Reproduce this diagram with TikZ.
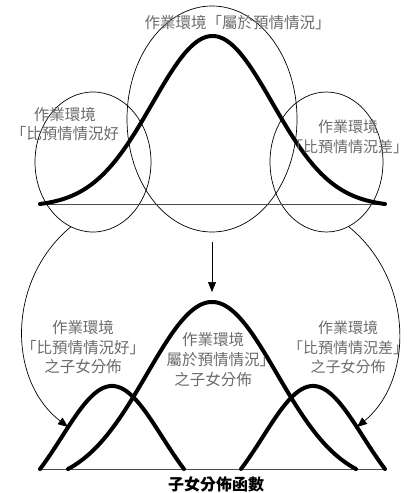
\documentclass[tikz,border=0pt]{standalone}
\usepackage{fontspec}
\newfontfamily\cjk{Noto Sans CJK TC}
\usetikzlibrary{shapes.geometric,arrows.meta}
\definecolor{txtgray}{gray}{0.42}
\definecolor{basegray}{gray}{0.3}
\tikzset{
  declare function={bell(\t,\c,\w,\s)=(exp(-0.5*((\t-\c)/\s)^2)-exp(-0.5*(\w/\s)^2))/(1-exp(-0.5*(\w/\s)^2));},
  zone/.style={ellipse,draw=black,line width=0.7pt,inner sep=0pt},
  curve/.style={line width=4pt,line cap=round,line join=round},
  baseline/.style={draw=basegray,line width=0.9pt},
  lbl/.style={text=txtgray,align=center,inner sep=0pt,font=\cjk\fontsize{15.5pt}{19.5pt}\selectfont},
  arr/.style={line width=0.7pt,-{Triangle[length=10pt,width=8pt]}},
}
\begin{document}
\begin{tikzpicture}[x=1pt,y=-1pt]
\useasboundingbox (0,0) rectangle (409,493);
% zones
\node[zone,minimum width=116pt,minimum height=140pt] (lz) at (93,162) {};
\node[zone,minimum width=170pt,minimum height=226pt] (cz) at (212,119) {};
\node[zone,minimum width=113pt,minimum height=140pt] (rz) at (326.5,162) {};
% top distribution
\draw[baseline] (40,204) -- (385,204);
\draw[curve] plot[domain=40:385,samples=140] (\x,{204-168*bell(\x,212.5,172.5,60)});
% bottom distributions
\draw[baseline] (40,469) -- (385,469);
\draw[curve] plot[domain=40:184,samples=80] (\x,{469-83*bell(\x,112,72,50)});
\draw[curve] plot[domain=241:385,samples=80] (\x,{469-83*bell(\x,313,72,50)});
\draw[curve] plot[domain=68:356,samples=140] (\x,{469-167*bell(\x,212,144,65)});
% labels
\node[lbl] (tc) at (237.5,23) {作業環境「屬於預情情況」};
\node[lbl] (tl) at (65,124) {作業環境\\「比預情情況好};
\node[lbl,font=\cjk\fontsize{15pt}{19.5pt}\selectfont] (tr) at (348,137) {作業環境\\「比預情情況差」};
\node[lbl] (bl) at (83,347.5) {作業環境\\「比預情情況好」\\之子女分佈};
\node[lbl,font=\cjk\fontsize{15.5pt}{20pt}\selectfont] (bm) at (213,360) {作業環境\\\phantom{「}屬於預情情況」\\之子女分佈};
\node[lbl,font=\cjk\fontsize{15pt}{19.5pt}\selectfont] (br) at (348,347.5) {作業環境\\「比預情情況差」\\之子女分佈};
\node[inner sep=0pt,font=\cjk\bfseries\fontsize{16pt}{18pt}\selectfont] (title) at (216,484) {子女分佈函數};
% arrow endpoints
\coordinate (cs) at (212,242);
\coordinate (ct) at (212,292);
\coordinate (lt) at (68,427);
\coordinate (rt) at (357,427);
% arrows
\draw[arr] (cs) -- (ct);
\draw[arr] (lz.-109) .. controls (7,280) and (7,380) .. (lt);
\draw[arr] (rz.-71) .. controls (414,280) and (414,380) .. (rt);
\end{tikzpicture}
\end{document}
